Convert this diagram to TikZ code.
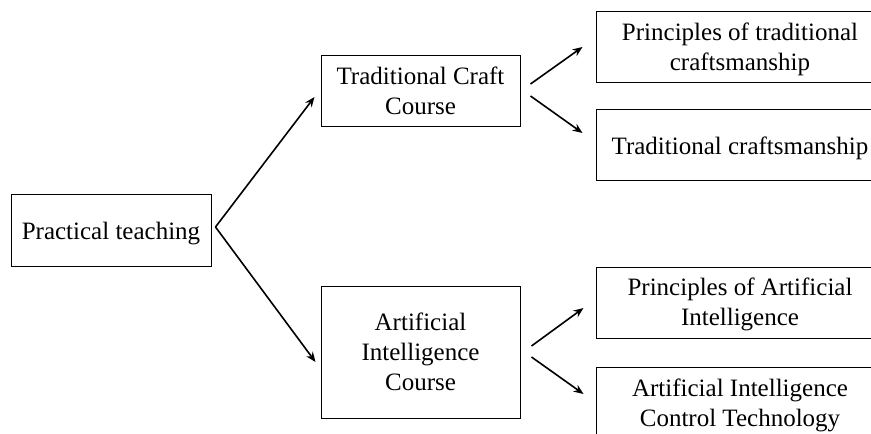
\documentclass[tikz,border=0pt]{standalone}
\usepackage{fontspec}
\setmainfont{Liberation Serif}
\usetikzlibrary{arrows.meta}
\begin{document}
\begin{tikzpicture}[x=1pt,y=-1pt,
  box/.style={draw, line width=1pt, rectangle, inner sep=0pt},
  txt/.style={inner sep=0pt, align=center, font=\fontsize{25}{30}\selectfont},
  arr/.style={line width=1.6pt, -{Stealth[length=10pt,width=8pt]}}]
\useasboundingbox (0,0) rectangle (871,434);
\clip (0,0) rectangle (871,434);
\node[box, minimum width=200pt, minimum height=72pt,
  label={[txt,yshift=-4pt]center:Practical teaching}] (prac) at (111,230) {};
\node[box, minimum width=199pt, minimum height=71pt,
  label={[txt,yshift=-0.5pt]center:{Traditional Craft\\Course}}] (tcc) at (420.5,90.5) {};
\node[box, minimum width=199pt, minimum height=132pt,
  label={[txt]center:{Artificial\\Intelligence\\Course}}] (aic) at (420.5,352) {};
\node[box, minimum width=288pt, minimum height=71pt,
  label={[txt,yshift=-2.5pt]center:{Principles of traditional\\craftsmanship}}] (r1) at (740,46.5) {};
\node[box, minimum width=288pt, minimum height=71pt,
  label={[txt,yshift=-4pt]center:Traditional craftsmanship}] (r2) at (740,144.5) {};
\node[box, minimum width=288pt, minimum height=71pt,
  label={[txt,yshift=-2pt]center:{Principles of Artificial\\Intelligence}}] (r3) at (740,302.5) {};
\node[box, minimum width=288pt, minimum height=71pt,
  label={[txt,yshift=-2.5pt]center:{Artificial Intelligence\\Control Technology}}] (r4) at (740,403) {};
\coordinate (ps) at ([shift={(4,-3)}]prac.east);
\draw[arr] (ps) -- ([shift={(-6,6.5)}]tcc.west);
\draw[arr] (ps) -- ([shift={(-5,10)}]aic.west);
\draw[arr] ([shift={(10,-6.5)}]tcc.east) -- ([shift={(-13,0.5)}]r1.west);
\draw[arr] ([shift={(10,5.5)}]tcc.east) -- ([shift={(-13,-11.5)}]r2.west);
\draw[arr] ([shift={(11,-6)}]aic.east) -- ([shift={(-12,5.5)}]r3.west);
\draw[arr] ([shift={(11,5)}]aic.east) -- ([shift={(-12,-9)}]r4.west);
\end{tikzpicture}
\end{document}
